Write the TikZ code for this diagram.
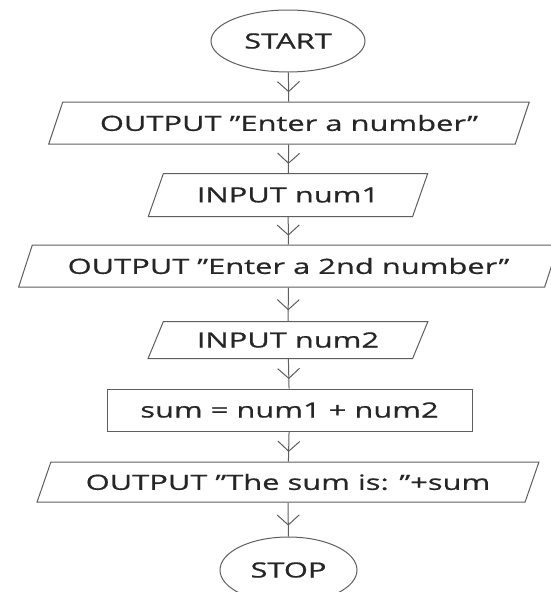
\documentclass[tikz,border=0pt]{standalone}
\usepackage{fontspec}
\setmainfont{Open Sans}[FakeStretch=1.47, FakeBold=0.7]
\usetikzlibrary{shapes.geometric,arrows.meta,decorations.markings}
\definecolor{linec}{HTML}{5E5E5E}
\definecolor{textc}{HTML}{262626}
\newcommand\dq{\symbol{34}}
\tikzset{
  base/.style={draw=linec, line width=1pt, text=textc, inner sep=0pt, font=\fontsize{21}{24}\selectfont},
  term/.style={base, ellipse},
  io/.style={base, trapezium, trapezium left angle=54, trapezium right angle=126, trapezium stretches=true},
  proc/.style={base, rectangle},
  flow/.style={draw=linec, line width=1pt, postaction={decorate},
    decoration={markings, mark=at position 0.68 with {\arrow{Straight Barb[length=10pt,width=22pt,line width=1pt]}}}}
}
\begin{document}
\begin{tikzpicture}[x=1pt,y=1pt]
\useasboundingbox (0,0) rectangle (551,-592);
\fill[white] (0,0) rectangle (551,-592);
\node[term, minimum width=154, minimum height=62] (start) at (288,-41) {START};
\node[io, minimum width=481, minimum height=42] (o1) at (289,-123) {OUTPUT \dq Enter a number\dq};
\node[io, minimum width=280, minimum height=43] (i1) at (288,-195) {INPUT num1};
\node[io, minimum width=543, minimum height=42] (o2) at (288.5,-266) {OUTPUT \dq Enter a 2nd number\dq};
\node[io, minimum width=280, minimum height=37] (i2) at (288,-340) {INPUT num2};
\node[proc, minimum width=365, minimum height=42] (sum) at (289.5,-410) {sum = num1 + num2};
\node[io, minimum width=502, minimum height=40] (o3) at (288,-482) {OUTPUT \dq The sum is: \dq+sum};
\node[term, minimum width=137, minimum height=66] (stop) at (288.5,-570) {STOP};
\path[flow] (start) -- (o1);
\path[flow] (o1) -- (i1);
\path[flow] (i1) -- (o2);
\path[flow] (o2) -- (i2);
\path[flow] (i2) -- (sum);
\path[flow] (sum) -- (o3);
\path[flow] (o3) -- (stop);
\end{tikzpicture}
\end{document}
